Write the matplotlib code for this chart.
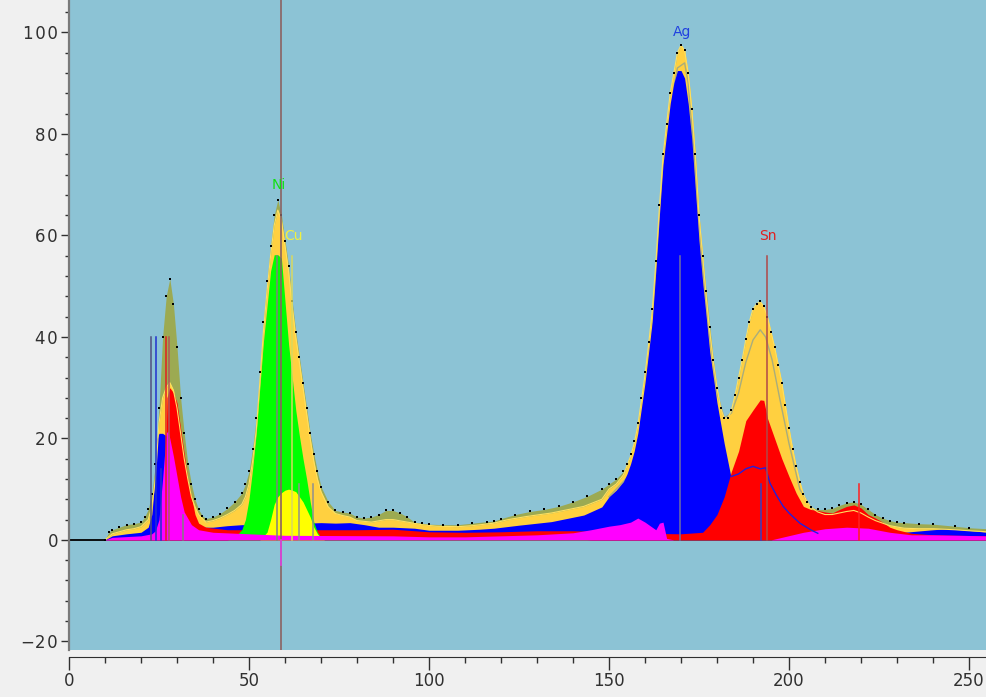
import matplotlib
matplotlib.use("Agg")
import matplotlib.pyplot as plt
from matplotlib import font_manager
from matplotlib.ticker import MultipleLocator, FixedLocator

# measured spectrum (olive area + data dots)
spec_x = [10, 11, 12, 14, 16, 18, 20, 21, 22, 23, 24, 25, 26, 27, 28, 29, 30, 31, 32, 33,
          34, 35, 36, 37, 38, 40, 42, 44, 46, 48, 49, 50, 51, 52, 53, 54, 55, 56, 57, 58,
          59, 60, 61, 62, 63, 64, 65, 66, 67, 68, 69, 70, 72, 74, 76, 78, 80, 82, 84, 86,
          88, 90, 92, 94, 96, 98, 100, 104, 108, 112, 116, 118, 120, 124, 128, 132, 136, 140, 144, 148,
          150, 152, 154, 155, 156, 157, 158, 159, 160, 161, 162, 163, 164, 165, 166, 167, 168, 169, 170, 171,
          172, 173, 174, 175, 176, 177, 178, 179, 180, 181, 182, 183, 184, 185, 186, 187, 188, 189, 190, 191,
          192, 193, 194, 195, 196, 197, 198, 199, 200, 201, 202, 203, 204, 205, 206, 208, 210, 212, 214, 216,
          218, 220, 222, 224, 226, 228, 230, 232, 236, 240, 246, 250, 255]
spec_y = [0, 1.5, 2, 2.5, 3, 3.2, 3.5, 4.5, 6, 9, 15, 26, 40, 48, 51.5, 46.5, 38, 28, 21, 15,
          11, 8, 6, 4.8, 4.2, 4.5, 5.2, 6.2, 7.5, 9.2, 11, 13.5, 18, 24, 33, 43, 51, 58, 64, 67,
          64, 59, 54, 47, 41, 36, 31, 26, 21, 17, 13.5, 10.5, 7.5, 5.8, 5.5, 5.3, 4.5, 4.3, 4.5, 5,
          5.8, 5.8, 5.3, 4.5, 3.5, 3.3, 3.1, 3, 3, 3.3, 3.6, 3.7, 4.2, 5, 5.6, 6, 6.6, 7.5, 8.6, 10,
          11, 12, 13.5, 15, 17, 19.5, 23, 28, 33, 39, 45.5, 55, 66, 76, 82, 88, 92, 96, 97.5, 96.5,
          92, 85, 76, 64, 56, 49, 42, 35.5, 30, 26, 24, 24, 25.5, 28.5, 32, 35.5, 39.5, 43, 45.5, 46.5,
          47, 46, 44, 41, 38, 34.5, 31, 26.5, 22, 18, 14.5, 11.5, 9, 7.5, 6.5, 6, 6, 6.2, 6.8, 7.3,
          7.5, 7, 6, 5, 4.3, 3.8, 3.5, 3.4, 3.2, 3.1, 2.7, 2.4, 2.2]

# fitted sum (orange-yellow area + thin line)
fit_x = [10, 12, 14, 16, 18, 20, 22, 23, 24, 25, 26, 27, 28, 29, 30, 31, 32, 33, 34, 35,
         36, 38, 40, 42, 44, 46, 48, 49, 50, 51, 52, 53, 54, 55, 56, 57, 58, 59, 60, 61,
         62, 63, 64, 65, 66, 67, 68, 69, 70, 72, 74, 76, 78, 80, 84, 88, 90, 94, 98, 102,
         108, 112, 118, 122, 127, 134, 143, 148, 150, 152, 154, 155, 156, 157, 158, 159, 160, 161, 162, 163,
         164, 165, 166, 167, 168, 169, 170, 171, 172, 173, 174, 175, 176, 177, 178, 179, 180, 181, 182, 183,
         184, 185, 186, 187, 188, 189, 190, 191, 192, 193, 194, 195, 196, 197, 198, 199, 200, 201, 202, 203,
         204, 205, 206, 208, 210, 212, 214, 216, 218, 220, 222, 224, 226, 228, 232, 236, 240, 246, 250, 255]
fit_y = [0, 1.2, 1.6, 2, 2.2, 2.6, 4, 6.5, 12, 23, 28, 30, 31, 29.5, 26, 21, 16, 12, 8.5, 6.5,
         5, 3.5, 3.8, 4.3, 5, 5.8, 7, 8.5, 11, 15.5, 21.5, 31, 41, 49, 56, 62, 65, 63, 58, 53,
         46, 40, 35, 30, 25, 20, 15.5, 12, 9.5, 6.5, 5.2, 4.8, 4.5, 3.8, 3.5, 4, 4, 3.5, 3, 2.7,
         2.6, 2.8, 3.3, 4, 4.6, 5.3, 6.6, 8, 10, 11, 12.8, 14.6, 16.5, 19, 22.5, 27.5, 32.5, 38.5, 45, 54.5,
         65.5, 75.5, 82, 88, 92, 96, 97.5, 96.5, 92, 85, 75.5, 64, 56, 48, 41, 35, 30, 26, 24, 24,
         25.5, 28.5, 32, 35.5, 39.5, 43, 45.5, 46.5, 47, 46, 44, 41, 38, 34.5, 31, 26.5, 22, 18, 14.5, 11.5,
         9, 7.5, 6.5, 5.5, 5, 5, 5.3, 5.6, 5.8, 5.3, 4.5, 3.8, 3.3, 2.8, 2.3, 2.2, 2.2, 2, 1.8, 1.6]

# grey inner line (Ag / Sn peaks)
gray_x = [150, 156, 160, 164, 166, 168, 169, 170, 171, 172, 174, 176, 178, 180, 182, 184, 186, 188,
          190, 192, 193.5, 195.3, 197.5, 200, 203, 206, 208]
gray_y = [8.5, 13, 25, 56, 75, 89, 93, 93.5, 94, 90, 73, 54, 40, 29, 24, 25, 29, 35,
          39.4, 41.4, 40, 35.5, 27.6, 19, 10, 6.5, 5]

# Ag (blue)
ag_x = [10, 12, 16, 20, 22, 23, 24, 24.5, 25, 26, 27, 28, 29, 30, 32, 34, 36, 40, 44, 48,
        54, 60, 66, 70, 74, 78, 82, 86, 90, 96, 100, 108, 114, 118, 125, 134, 143, 148, 150, 152,
        154, 155, 156, 157, 158, 159, 160, 161, 162, 163, 164, 165, 166, 167, 168, 169, 170, 171, 172, 173,
        174, 175, 176, 177, 178, 180, 182, 184, 186, 188, 190, 196, 210, 226, 232, 240, 244, 248, 255]
ag_y = [0, 0.8, 1.2, 1.5, 2.5, 5, 13, 20, 21, 21, 20.5, 17, 13, 9, 5, 3.2, 2.5, 2.5, 2.8, 3,
        3, 3, 3.3, 3.4, 3.3, 3.4, 3, 2.5, 2.5, 2.3, 1.9, 1.9, 2.1, 2.3, 2.9, 3.6, 4.9, 6.5, 8.5, 9.8,
        11.5, 13, 15, 17.5, 21, 26, 31, 37, 43, 53, 64, 74, 80, 86, 90, 92.5, 92.5, 91, 86, 79,
        69, 59, 51, 44, 37, 27, 19, 12, 7, 3.5, 2, 1.5, 1.2, 1.3, 1.5, 2, 2.2, 2, 1.5]

# blue outline line under the Sn peak
agb_x = [184, 186, 188, 190, 192, 193.5, 194.7, 196.5, 198.4, 200, 203, 206, 208]
agb_y = [12.5, 13, 14, 14.5, 14, 14.2, 11.2, 8.8, 6.6, 5.3, 3.3, 2, 1.3]

# Sn (red)
sn_x = [10, 20, 24, 26, 26.8, 27.2, 28, 29, 30, 31, 32, 33, 34, 35, 36, 38, 44, 60, 80, 90,
        100, 110, 120, 130, 140, 150, 160, 170, 176, 178, 180, 182, 183, 184, 186, 188, 190, 192, 193, 194,
        196, 198, 200, 202, 204, 206, 208, 210, 212, 214, 216, 218, 220, 222, 224, 226, 228, 230, 234, 240,
        255]
sn_y = [0, 0.5, 1, 4, 12, 28, 30, 29, 27, 22, 17, 12, 8.5, 5, 3.3, 2.5, 2, 2, 2, 2.1,
        1.6, 1.5, 1.6, 1.8, 1.8, 1.6, 1.3, 1.2, 1.5, 3, 5, 8.5, 11, 13.5, 17.5, 23.5, 25.6, 27.6, 27.5, 24,
        20, 16, 12.5, 9.2, 6.6, 6, 5.8, 5.5, 5.3, 6, 6.6, 6.9, 6.3, 5, 4.3, 3.5, 2.5, 2, 1.3, 1,
        0.8]

# Ni (green)
ni_x = [44, 46, 48, 49, 50, 51, 52, 53, 54, 55, 56, 57, 58, 59, 60, 61, 62, 63, 64, 65,
        66, 67, 68, 69, 70, 72, 140, 145]
ni_y = [0, 0.5, 2, 4, 8, 14, 21, 30, 39, 46, 53, 56.2, 56.2, 55.5, 47, 38.5, 32, 25.5, 20.5, 16,
        12, 7.5, 3.5, 1.5, 0.5, 0.3, 0.3, 0]

# Cu (yellow)
cu_x = [53, 55, 56, 57, 58, 59, 60, 61, 62, 63, 64, 65, 66, 67, 68, 69, 70, 71]
cu_y = [0, 1.5, 4, 7, 8.5, 9.3, 9.8, 10, 9.8, 9.5, 8.5, 7.5, 6, 4.5, 2.5, 1.2, 0.3, 0]

# other (magenta)
mg_x = [10, 12, 20, 23, 24, 25, 26, 27, 27.5, 28, 29, 30, 31, 32, 34, 36, 40, 50, 60, 90,
        100, 110, 120, 130, 140, 145, 150, 153, 156, 158, 160, 162, 163, 164, 165, 166, 168, 195, 198, 204,
        210, 216, 222, 228, 234, 240, 255]
mg_y = [0, 0.5, 0.8, 1.2, 1.8, 4, 12, 21, 21.5, 20, 16.5, 12.5, 8.5, 5.5, 3, 2, 1.5, 1.2, 0.9, 0.8,
        0.6, 0.6, 0.8, 1, 1.4, 2, 2.7, 3, 3.5, 4.3, 3.5, 2.5, 2, 3.3, 3.5, 0.3, 0, 0, 0.5, 1.5,
        2.2, 2.5, 2.3, 1.5, 1, 1, 0.8]

# line markers: position, height, colour
mark_x = [22.7, 24.1, 25.5, 26.9, 27.9, 31.7, 57.7, 61.9, 63.9, 67.7, 169.7, 192.2, 193.9, 219.4]
mark_h = [40, 40, 14, 40, 40, 5, 56, 56, 11, 11, 56, 11, 56, 11]
mark_c = ['#505080', '#2030d0', '#2030d0', '#e02020', '#b05858', '#808080', '#808080', '#d8d860',
          '#909090', '#909090', '#7070a0', '#3040c8', '#b04848', '#ff2020']

peak_labels = ['Ni', 'Cu', 'Ag', 'Sn']
peak_pos = [(58.2, 68.5), (62.3, 58.5), (170.2, 98.8), (194.2, 58.5)]
peak_cols = ['#10e010', '#f0f040', '#2040e0', '#e02020']

cursor_x = 58.9

BG = '#8cc3d5'

try:
    font_manager.findfont('Liberation Sans Narrow', fallback_to_default=False)
    xfont = 'Liberation Sans Narrow'
    xsize = 15
except Exception:
    xfont = 'DejaVu Sans'
    xsize = 12

fig = plt.figure(figsize=(9.87, 6.97), dpi=100, facecolor='#f0f0f0')
ax = fig.add_axes([69 / 987, 47 / 697, 918 / 987, 650 / 697])
ax.set_facecolor(BG)
ax.set_xlim(0, 255)
ax.set_ylim(-21.7, 106.4)

ax.axhline(0, color='black', lw=1.3, zorder=1)
ax.fill_between(spec_x, spec_y, 0, color='#9caa52', lw=0, zorder=2)
ax.fill_between(fit_x, fit_y, 0, color='#ffd040', lw=0, zorder=3)
ax.plot(gray_x, gray_y, color='#a9ad7c', lw=1, zorder=3.5)
ax.fill_between(ag_x, ag_y, 0, color='#0000ff', lw=0, zorder=4)
ax.fill_between(sn_x, sn_y, 0, color='#ff0000', lw=0, zorder=5)
ax.fill_between(ni_x, ni_y, 0, color='#00ff00', lw=0, zorder=6)
ax.fill_between(cu_x, cu_y, 0, color='#ffff00', lw=0, zorder=7)
ax.fill_between(mg_x, mg_y, 0, color='#ff00ff', lw=0, zorder=8)
ax.plot(agb_x, agb_y, color='#2020e0', lw=1, zorder=8.5)
ax.plot(fit_x, fit_y, color='#ffe060', lw=0.8, zorder=9)
ax.plot(spec_x, spec_y, ls='none', marker='s', ms=1.6, mew=0, color='black', zorder=10)

for mx, mh, mc in zip(mark_x, mark_h, mark_c):
    ax.plot([mx, mx], [0, mh], color=mc, lw=1.1, zorder=11)

ax.axvline(cursor_x, color='#8b6262', lw=1.2, zorder=12)
ax.plot([cursor_x, cursor_x], [0, -5], color='#e040e0', lw=1.2, zorder=12.5)

for t, (px, py), c in zip(peak_labels, peak_pos, peak_cols):
    ax.text(px, py, t, color=c, fontsize=10, ha='center', va='bottom', zorder=13)

for s in ['top', 'right']:
    ax.spines[s].set_visible(False)
ax.spines['left'].set_color('#7a7a7a')
ax.spines['left'].set_linewidth(1.6)
ax.spines['bottom'].set_position(('outward', 5))
ax.spines['bottom'].set_color('#303030')

ax.xaxis.set_major_locator(MultipleLocator(50))
ax.xaxis.set_minor_locator(MultipleLocator(10))
ax.yaxis.set_major_locator(FixedLocator([-20, 0, 20, 40, 60, 80, 100]))
ax.yaxis.set_minor_locator(FixedLocator([v for v in range(-20, 105, 4)]))
ax.tick_params(axis='y', which='major', length=6, width=1, color='#303030', pad=2,
               labelsize=12, labelcolor='#303030')
ax.tick_params(axis='y', which='minor', length=3, width=1, color='#303030')
ax.tick_params(axis='x', which='major', length=9, width=1, color='#303030', pad=2,
               labelsize=xsize, labelcolor='#303030')
ax.tick_params(axis='x', which='minor', length=4.5, width=1, color='#303030')

yt = [-20, 0, 20, 40, 60, 80, 100]
ax.set_yticklabels([('\u2212' if v < 0 else '') + '\u200a'.join(str(abs(v))) for v in yt])
for lab in ax.get_xticklabels():
    lab.set_fontfamily(xfont)

fig.savefig('out.png', dpi=100, facecolor=fig.get_facecolor())
